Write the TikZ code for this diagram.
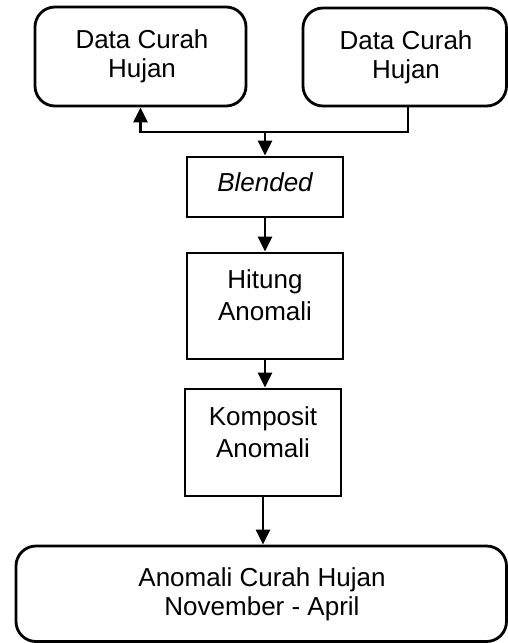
\documentclass[tikz,border=0pt]{standalone}
\usepackage{fontspec}
\setmainfont{Liberation Sans}
\usetikzlibrary{arrows.meta}
\begin{document}
\begin{tikzpicture}[x=1pt,y=-1pt,
  box/.style={draw=black,line width=2.8pt,inner sep=0pt},
  rbox/.style={box,rounded corners=20pt},
  txt/.style={align=center,inner sep=0pt,font=\fontsize{26}{29}\selectfont},
  txtb/.style={align=center,inner sep=0pt,font=\fontsize{26}{32}\selectfont},
  conn/.style={line width=2.8pt},
  arr/.style={conn,-{Triangle[width=14pt,length=15pt]}}]
\useasboundingbox (0,0) rectangle (508,643);
% boxes
\node[rbox,minimum width=211pt,minimum height=99pt] (b1) at (140.5,56.5) {};
\node[rbox,minimum width=203.5pt,minimum height=98pt] (b2) at (404.75,57) {};
\node[box,minimum width=156pt,minimum height=60pt] (bl) at (265,187) {};
\node[box,minimum width=156pt,minimum height=106pt] (hi) at (265,306) {};
\node[box,minimum width=156pt,minimum height=107pt] (ko) at (263,442.5) {};
\node[rbox,minimum width=490.5pt,minimum height=95.5pt] (an) at (261.25,593.75) {};
% texts
\node[txt] (t1) at (142,56) {Data Curah\\Hujan};
\node[txt] (t2) at (406,57) {Data Curah\\Hujan};
\node[txt,font=\fontsize{26}{29}\selectfont\itshape] (t3) at (265,182.5) {Blended};
\node[txtb] (t4) at (265,295) {Hitung\\Anomali};
\node[txtb] (t5) at (263,432) {Komposit\\Anomali};
\node[txt] (t6) at (262,594) {Anomali Curah Hujan\\November - April};
% connectors
\coordinate (j) at (265,132);
\coordinate (r) at (408,132);
\draw[arr] (b2.south -| r) -- (r) -- (j) -| (b1.south);
\draw[arr] (j) -- (bl.north);
\draw[arr] (bl.south) -- (hi.north);
\draw[arr] (hi.south) -- (hi.south |- ko.north);
\draw[arr] (ko.south) -- (ko.south |- an.north);
\end{tikzpicture}
\end{document}
